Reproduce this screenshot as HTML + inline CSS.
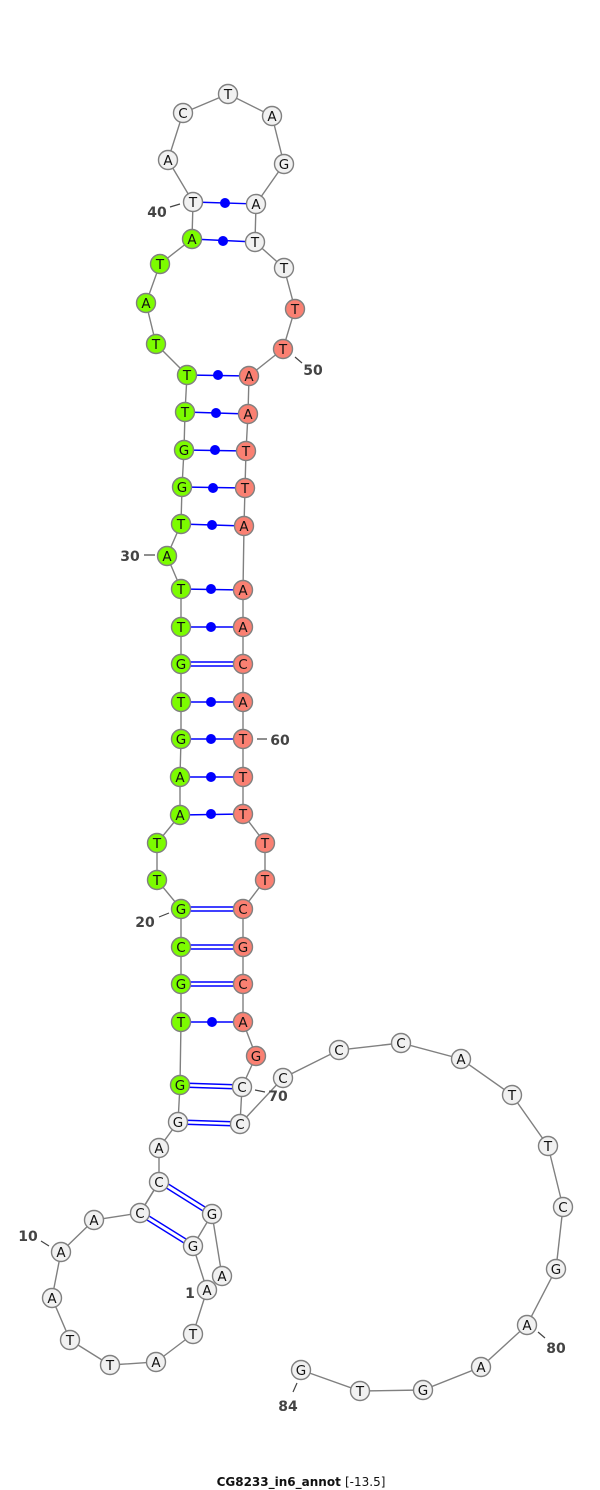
<!DOCTYPE html>
<html><head><meta charset="utf-8"><style>
html,body{margin:0;padding:0;background:#fff}
svg{display:block}
.b{stroke:#808080;stroke-width:1.4;fill:none}
.p{stroke:#0000ff;stroke-width:1.4;fill:none}
.t{stroke:#444;stroke-width:1.2}
circle{stroke:#808080;stroke-width:1.4}
.w{fill:#f1f1f1}.g{fill:#7cfc00}.r{fill:#fa8072}
.d{fill:#0000ff;stroke:none}
text{font-family:"DejaVu Sans",sans-serif}
.n text,text.n{font-size:13.5px;fill:#111;text-anchor:middle}
.l{font-size:14px;font-weight:bold;fill:#444;text-anchor:middle}
</style></head><body>
<svg width="600" height="1490" viewBox="0 0 600 1490" xmlns="http://www.w3.org/2000/svg">
<polyline class="b" points="207,1290 193,1334 156,1362 110,1365 70,1340 52,1298 61,1252 94,1220 140,1213 159,1182 159,1148 178,1122 180,1085 181,1022 181,984 181,947 181,909 157,880 157,843 180,815 180,777 181,739 181,702 181,664 181,627 181,589 167,556 181,524 182,487 184,450 185,412 187,375 156,344 146,303 160,264 192,239 193,202 168,160 183,113 228,94 272,116 284,164 256,204 255,242 284,268 295,309 283,349 249,376 248,414 246,451 245,488 244,526 243,590 243,627 243,664 243,702 243,739 243,777 243,814 265,843 265,880 243,909 243,947 243,984 243,1022 256,1056 242,1087 240,1124 283,1078 339,1050 401,1043 461,1059 512,1095 548,1146 563,1207 556,1269 527,1325 481,1367 423,1390 360,1391 301,1370"/>
<polyline class="b" points="159,1182 140,1213"/>
<polyline class="b" points="193,1246 207,1290"/>
<polyline class="b" points="212,1214 193,1246"/>
<polyline class="b" points="212,1214 222,1276"/>
<polyline class="p" points="193,202 256,204"/><polyline class="p" points="192,239 255,242"/>
<polyline class="p" points="187,375 249,376"/><polyline class="p" points="185,412 248,414"/>
<polyline class="p" points="184,450 246,451"/><polyline class="p" points="182,487 245,488"/>
<polyline class="p" points="181,524 244,526"/><polyline class="p" points="181,589 243,590"/>
<polyline class="p" points="181,627 243,627"/><polyline class="p" points="181,702 243,702"/>
<polyline class="p" points="181,739 243,739"/><polyline class="p" points="180,777 243,777"/>
<polyline class="p" points="180,815 243,814"/><polyline class="p" points="181,1022 243,1022"/>
<polyline class="p" points="181,662 243,662"/><polyline class="p" points="181,666 243,666"/>
<polyline class="p" points="181,907 243,907"/><polyline class="p" points="181,911 243,911"/>
<polyline class="p" points="181,945 243,945"/><polyline class="p" points="181,949 243,949"/>
<polyline class="p" points="181,982 243,982"/><polyline class="p" points="181,986 243,986"/>
<polyline class="p" points="180,1083 242,1085"/><polyline class="p" points="180,1087 242,1089"/>
<polyline class="p" points="178,1120 240,1122"/><polyline class="p" points="178,1124 240,1126"/>
<polyline class="p" points="160,1184 211,1216"/><polyline class="p" points="162,1180 213,1212"/>
<polyline class="p" points="139,1215 192,1248"/><polyline class="p" points="141,1211 194,1244"/>
<circle class="d" cx="225" cy="203" r="5"/><circle class="d" cx="223" cy="241" r="5"/>
<circle class="d" cx="218" cy="375" r="5"/><circle class="d" cx="216" cy="413" r="5"/>
<circle class="d" cx="215" cy="450" r="5"/><circle class="d" cx="213" cy="488" r="5"/>
<circle class="d" cx="212" cy="525" r="5"/><circle class="d" cx="211" cy="589" r="5"/>
<circle class="d" cx="211" cy="627" r="5"/><circle class="d" cx="211" cy="702" r="5"/>
<circle class="d" cx="211" cy="739" r="5"/><circle class="d" cx="211" cy="777" r="5"/>
<circle class="d" cx="211" cy="814" r="5"/><circle class="d" cx="212" cy="1022" r="5"/>
<g class="t">
<line x1="170" y1="207" x2="180" y2="204"/><line x1="295" y1="357" x2="302" y2="363"/>
<line x1="144" y1="555" x2="155" y2="555"/><line x1="257" y1="739" x2="267" y2="739"/>
<line x1="159" y1="917" x2="169" y2="913"/><line x1="255" y1="1090" x2="265" y2="1092"/>
<line x1="41" y1="1241" x2="49" y2="1246"/><line x1="538" y1="1332" x2="545" y2="1338"/>
<line x1="297" y1="1383" x2="293" y2="1392"/>
</g>
<g class="n">
<circle class="w" cx="222" cy="1276" r="9.5"/><text x="222" y="1281">A</text>
<circle class="w" cx="207" cy="1290" r="9.5"/><text x="207" y="1295">A</text>
<circle class="w" cx="193" cy="1334" r="9.5"/><text x="193" y="1339">T</text>
<circle class="w" cx="156" cy="1362" r="9.5"/><text x="156" y="1367">A</text>
<circle class="w" cx="110" cy="1365" r="9.5"/><text x="110" y="1370">T</text>
<circle class="w" cx="70" cy="1340" r="9.5"/><text x="70" y="1345">T</text>
<circle class="w" cx="52" cy="1298" r="9.5"/><text x="52" y="1303">A</text>
<circle class="w" cx="61" cy="1252" r="9.5"/><text x="61" y="1257">A</text>
<circle class="w" cx="94" cy="1220" r="9.5"/><text x="94" y="1225">A</text>
<circle class="w" cx="140" cy="1213" r="9.5"/><text x="140" y="1218">C</text>
<circle class="w" cx="159" cy="1182" r="9.5"/><text x="159" y="1187">C</text>
<circle class="w" cx="212" cy="1214" r="9.5"/><text x="212" y="1219">G</text>
<circle class="w" cx="193" cy="1246" r="9.5"/><text x="193" y="1251">G</text>
<circle class="w" cx="159" cy="1148" r="9.5"/><text x="159" y="1153">A</text>
<circle class="w" cx="178" cy="1122" r="9.5"/><text x="178" y="1127">G</text>
<circle class="g" cx="180" cy="1085" r="9.5"/><text x="180" y="1090">G</text>
<circle class="g" cx="181" cy="1022" r="9.5"/><text x="181" y="1027">T</text>
<circle class="g" cx="181" cy="984" r="9.5"/><text x="181" y="989">G</text>
<circle class="g" cx="181" cy="947" r="9.5"/><text x="181" y="952">C</text>
<circle class="g" cx="181" cy="909" r="9.5"/><text x="181" y="914">G</text>
<circle class="g" cx="157" cy="880" r="9.5"/><text x="157" y="885">T</text>
<circle class="g" cx="157" cy="843" r="9.5"/><text x="157" y="848">T</text>
<circle class="g" cx="180" cy="815" r="9.5"/><text x="180" y="820">A</text>
<circle class="g" cx="180" cy="777" r="9.5"/><text x="180" y="782">A</text>
<circle class="g" cx="181" cy="739" r="9.5"/><text x="181" y="744">G</text>
<circle class="g" cx="181" cy="702" r="9.5"/><text x="181" y="707">T</text>
<circle class="g" cx="181" cy="664" r="9.5"/><text x="181" y="669">G</text>
<circle class="g" cx="181" cy="627" r="9.5"/><text x="181" y="632">T</text>
<circle class="g" cx="181" cy="589" r="9.5"/><text x="181" y="594">T</text>
<circle class="g" cx="167" cy="556" r="9.5"/><text x="167" y="561">A</text>
<circle class="g" cx="181" cy="524" r="9.5"/><text x="181" y="529">T</text>
<circle class="g" cx="182" cy="487" r="9.5"/><text x="182" y="492">G</text>
<circle class="g" cx="184" cy="450" r="9.5"/><text x="184" y="455">G</text>
<circle class="g" cx="185" cy="412" r="9.5"/><text x="185" y="417">T</text>
<circle class="g" cx="187" cy="375" r="9.5"/><text x="187" y="380">T</text>
<circle class="g" cx="156" cy="344" r="9.5"/><text x="156" y="349">T</text>
<circle class="g" cx="146" cy="303" r="9.5"/><text x="146" y="308">A</text>
<circle class="g" cx="160" cy="264" r="9.5"/><text x="160" y="269">T</text>
<circle class="g" cx="192" cy="239" r="9.5"/><text x="192" y="244">A</text>
<circle class="w" cx="193" cy="202" r="9.5"/><text x="193" y="207">T</text>
<circle class="w" cx="168" cy="160" r="9.5"/><text x="168" y="165">A</text>
<circle class="w" cx="183" cy="113" r="9.5"/><text x="183" y="118">C</text>
<circle class="w" cx="228" cy="94" r="9.5"/><text x="228" y="99">T</text>
<circle class="w" cx="272" cy="116" r="9.5"/><text x="272" y="121">A</text>
<circle class="w" cx="284" cy="164" r="9.5"/><text x="284" y="169">G</text>
<circle class="w" cx="256" cy="204" r="9.5"/><text x="256" y="209">A</text>
<circle class="w" cx="255" cy="242" r="9.5"/><text x="255" y="247">T</text>
<circle class="w" cx="284" cy="268" r="9.5"/><text x="284" y="273">T</text>
<circle class="r" cx="295" cy="309" r="9.5"/><text x="295" y="314">T</text>
<circle class="r" cx="283" cy="349" r="9.5"/><text x="283" y="354">T</text>
<circle class="r" cx="249" cy="376" r="9.5"/><text x="249" y="381">A</text>
<circle class="r" cx="248" cy="414" r="9.5"/><text x="248" y="419">A</text>
<circle class="r" cx="246" cy="451" r="9.5"/><text x="246" y="456">T</text>
<circle class="r" cx="245" cy="488" r="9.5"/><text x="245" y="493">T</text>
<circle class="r" cx="244" cy="526" r="9.5"/><text x="244" y="531">A</text>
<circle class="r" cx="243" cy="590" r="9.5"/><text x="243" y="595">A</text>
<circle class="r" cx="243" cy="627" r="9.5"/><text x="243" y="632">A</text>
<circle class="r" cx="243" cy="664" r="9.5"/><text x="243" y="669">C</text>
<circle class="r" cx="243" cy="702" r="9.5"/><text x="243" y="707">A</text>
<circle class="r" cx="243" cy="739" r="9.5"/><text x="243" y="744">T</text>
<circle class="r" cx="243" cy="777" r="9.5"/><text x="243" y="782">T</text>
<circle class="r" cx="243" cy="814" r="9.5"/><text x="243" y="819">T</text>
<circle class="r" cx="265" cy="843" r="9.5"/><text x="265" y="848">T</text>
<circle class="r" cx="265" cy="880" r="9.5"/><text x="265" y="885">T</text>
<circle class="r" cx="243" cy="909" r="9.5"/><text x="243" y="914">C</text>
<circle class="r" cx="243" cy="947" r="9.5"/><text x="243" y="952">G</text>
<circle class="r" cx="243" cy="984" r="9.5"/><text x="243" y="989">C</text>
<circle class="r" cx="243" cy="1022" r="9.5"/><text x="243" y="1027">A</text>
<circle class="r" cx="256" cy="1056" r="9.5"/><text x="256" y="1061">G</text>
<circle class="w" cx="242" cy="1087" r="9.5"/><text x="242" y="1092">C</text>
<circle class="w" cx="240" cy="1124" r="9.5"/><text x="240" y="1129">C</text>
<circle class="w" cx="283" cy="1078" r="9.5"/><text x="283" y="1083">C</text>
<circle class="w" cx="339" cy="1050" r="9.5"/><text x="339" y="1055">C</text>
<circle class="w" cx="401" cy="1043" r="9.5"/><text x="401" y="1048">C</text>
<circle class="w" cx="461" cy="1059" r="9.5"/><text x="461" y="1064">A</text>
<circle class="w" cx="512" cy="1095" r="9.5"/><text x="512" y="1100">T</text>
<circle class="w" cx="548" cy="1146" r="9.5"/><text x="548" y="1151">T</text>
<circle class="w" cx="563" cy="1207" r="9.5"/><text x="563" y="1212">C</text>
<circle class="w" cx="556" cy="1269" r="9.5"/><text x="556" y="1274">G</text>
<circle class="w" cx="527" cy="1325" r="9.5"/><text x="527" y="1330">A</text>
<circle class="w" cx="481" cy="1367" r="9.5"/><text x="481" y="1372">A</text>
<circle class="w" cx="423" cy="1390" r="9.5"/><text x="423" y="1395">G</text>
<circle class="w" cx="360" cy="1391" r="9.5"/><text x="360" y="1396">T</text>
<circle class="w" cx="301" cy="1370" r="9.5"/><text x="301" y="1375">G</text>
</g>
<text class="l" x="157" y="217">40</text>
<text class="l" x="313" y="375">50</text>
<text class="l" x="130" y="561">30</text>
<text class="l" x="280" y="745">60</text>
<text class="l" x="145" y="927">20</text>
<text class="l" x="278" y="1101">70</text>
<text class="l" x="28" y="1241">10</text>
<text class="l" x="190" y="1298">1</text>
<text class="l" x="556" y="1353">80</text>
<text class="l" x="288" y="1411">84</text>
<text x="301" y="1486" text-anchor="middle" font-size="12" style="font-weight:bold;fill:#111">CG8233_in6_annot <tspan font-weight="normal">[-13.5]</tspan></text>
</svg>
</body></html>
